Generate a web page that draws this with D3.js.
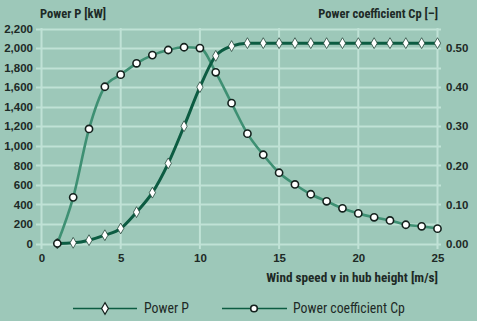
<!DOCTYPE html>
<html><head><meta charset="utf-8">
<script src="https://cdn.jsdelivr.net/npm/d3@7"></script>
<style>
html,body{margin:0;padding:0;background:#9dc8b9;}
svg{display:block;}
text{font-family:"Liberation Sans Narrow","Roboto Condensed","Liberation Sans",Arial,sans-serif;fill:#1d2a26;}
</style></head>
<body><svg id="c" width="477" height="321"></svg>
<script>
const windSpeed = [1,2,3,4,5,6,7,8,9,10,11,12,13,14,15,16,17,18,19,20,21,22,23,24,25];
const powerP = [0,7,34,85,154,321,520,820,1200,1600,1920,2020,2050,2050,2050,2050,2050,2050,2050,2050,2050,2050,2050,2050,2050];
const powerCp = [0.00,0.118,0.293,0.401,0.432,0.461,0.482,0.495,0.502,0.50,0.438,0.359,0.281,0.227,0.181,0.151,0.126,0.108,0.090,0.077,0.067,0.059,0.048,0.044,0.038];
const leftTicks = [0,200,400,600,800,1000,1200,1400,1600,1800,2000,2200];
const rightTicks = [0,0.1,0.2,0.3,0.4,0.5];
const xTicks = [0,5,10,15,20,25];
const gridVals = d3.range(0,2201,200);

const svg = d3.select("#c");
const x = d3.scaleLinear().domain([0,25]).range([41.5,437.5]);
const yL = d3.scaleLinear().domain([0,2200]).range([243.5,28.5]);
const yR = d3.scaleLinear().domain([0,0.55]).range([243.5,28.5]);

const gridC = "#c0e2d6";
svg.append("g").selectAll("line").data(gridVals).join("line")
  .attr("x1",36).attr("x2",441).attr("y1",d=>Math.round(yL(d))+0.5).attr("y2",d=>Math.round(yL(d))+0.5)
  .attr("stroke",gridC).attr("stroke-width",2);
svg.append("g").selectAll("line").data(xTicks).join("line")
  .attr("x1",d=>x(d)).attr("x2",d=>x(d)).attr("y1",28).attr("y2",249)
  .attr("stroke",gridC).attr("stroke-width",2);

const axL = svg.append("g").attr("transform","translate(33,0)")
  .call(d3.axisLeft(yL).tickValues(leftTicks).tickSize(0).tickPadding(0).tickFormat(d3.format(",")));
const axR = svg.append("g").attr("transform","translate(446,0)")
  .call(d3.axisRight(yR).tickValues(rightTicks).tickSize(0).tickPadding(0).tickFormat(d3.format(".2f")));
const axB = svg.append("g").attr("transform","translate(0,254)")
  .call(d3.axisBottom(x).tickValues(xTicks).tickSize(0).tickPadding(0));
[axL,axR,axB].forEach(a=>{
  a.select(".domain").remove();
  a.selectAll("text").attr("font-size",11.5).attr("font-weight","bold").attr("fill","#1d2a26")
   .style("font-family",'"Liberation Sans Narrow","Liberation Sans",Arial,sans-serif');
});

svg.append("text").attr("x",40).attr("y",18).attr("font-size",12.5).attr("font-weight","bold").text("Power P [kW]");
svg.append("text").attr("x",438).attr("y",18).attr("text-anchor","end").attr("font-size",12.5).attr("font-weight","bold").text("Power coefficient Cp [\u2013]");
svg.append("text").attr("x",438).attr("y",282).attr("text-anchor","end").attr("font-size",13.2).attr("font-weight","bold").text("Wind speed v in hub height [m/s]");

const cpColor = "#3e9073", pColor = "#0c5c42";
const lineCp = d3.line().x((d,i)=>x(windSpeed[i])).y(d=>yR(d)).curve(d3.curveMonotoneX);
const lineP = d3.line().x((d,i)=>x(windSpeed[i])).y(d=>yL(d)).curve(d3.curveMonotoneX);

svg.append("path").datum(powerCp).attr("d",lineCp).attr("fill","none").attr("stroke",cpColor).attr("stroke-width",2.6);
svg.append("path").datum(powerP).attr("d",lineP).attr("fill","none").attr("stroke",pColor).attr("stroke-width",3);

const diamond = d3.symbol().type(d3.symbolDiamond).size(34);
svg.append("g").selectAll("path").data(powerP).join("path")
  .attr("d",diamond).attr("transform",(d,i)=>`translate(${x(windSpeed[i])},${yL(d)})`)
  .attr("fill","#fff").attr("stroke","#24463a").attr("stroke-width",0.8);
svg.append("g").selectAll("circle").data(powerCp).join("circle")
  .attr("cx",(d,i)=>x(windSpeed[i])).attr("cy",d=>yR(d)).attr("r",3.6)
  .attr("fill","#fff").attr("stroke","#14211d").attr("stroke-width",1.6);

const ly = 308.5;
const lg = svg.append("g");
lg.append("line").attr("x1",73).attr("x2",137).attr("y1",ly).attr("y2",ly).attr("stroke",pColor).attr("stroke-width",1.3);
lg.append("path").attr("d",d3.symbol().type(d3.symbolDiamond).size(40)).attr("transform",`translate(105,${ly})`)
  .attr("fill","#fff").attr("stroke","#14211d").attr("stroke-width",1.2);
lg.append("text").attr("x",144).attr("y",ly+4.5).attr("font-size",13.8).text("Power P");
lg.append("line").attr("x1",222).attr("x2",287).attr("y1",ly).attr("y2",ly).attr("stroke",pColor).attr("stroke-width",1.3);
lg.append("circle").attr("cx",254).attr("cy",ly).attr("r",3.3).attr("fill","#fff").attr("stroke","#14211d").attr("stroke-width",1.6);
lg.append("text").attr("x",293).attr("y",ly+4.5).attr("font-size",13.8).text("Power coefficient Cp");
</script></body></html>
